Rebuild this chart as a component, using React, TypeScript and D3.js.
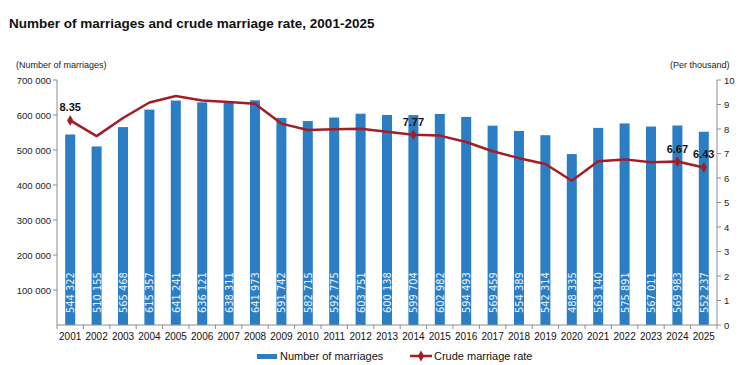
import * as d3 from "d3";

const years = [
  "2001", "2002", "2003", "2004", "2005", "2006", "2007", "2008", "2009", "2010",
  "2011", "2012", "2013", "2014", "2015", "2016", "2017", "2018", "2019", "2020",
  "2021", "2022", "2023", "2024", "2025",
];

const marriages = [
  544322, 510155, 565468, 615357, 641241, 636121, 638311, 641973, 591742, 582715,
  592775, 603751, 600138, 599704, 602982, 594493, 569459, 554389, 542314, 488335,
  563140, 575891, 567011, 569983, 552237,
];

const rates = [
  8.35, 7.71, 8.45, 9.08, 9.35, 9.16, 9.1, 9.03, 8.22, 7.96,
  7.99, 8.01, 7.89, 7.77, 7.73, 7.47, 7.09, 6.81, 6.57, 5.89,
  6.68, 6.76, 6.64, 6.67, 6.43,
];

const labelledRates = ["2001", "2014", "2024", "2025"];

const leftTicks = [100000, 200000, 300000, 400000, 500000, 600000, 700000];
const rightTicks = [0, 1, 2, 3, 4, 5, 6, 7, 8, 9, 10];

const fmt = (v: number) => d3.format(",")(v).replace(/,/g, " ");

function App() {
  const width = 740;
  const height = 365;
  const marginLeft = 57;
  const marginRight = 23;
  const top = 80;
  const bottom = 325;
  const font = "'Liberation Sans', Arial, sans-serif";
  const barColor = "#2b7ec4";
  const lineColor = "#a31d24";
  const axisColor = "#8c8c8c";

  const x = d3
    .scaleBand()
    .domain(years)
    .range([marginLeft, width - marginRight]);
  const yLeft = d3.scaleLinear().domain([0, 700000]).range([bottom, top]);
  const yRight = d3.scaleLinear().domain([0, 10]).range([bottom, top]);
  const barW = 10;
  const cx = (yr: string) => (x(yr) ?? 0) + x.bandwidth() / 2;

  const line = d3
    .line<number>()
    .x((_, i) => cx(years[i]))
    .y((d) => yRight(d));

  const diamond = d3.symbol(d3.symbolDiamond, 34)() ?? "";

  return (
    <svg
      width={width}
      height={height}
      style={{ position: "absolute", left: 0, top: 0, background: "#fff" }}
      fontFamily={font}
    >
      <text x={9} y={28} fontSize={13.5} fontWeight="bold" fill="#111">
        Number of marriages and crude marriage rate, 2001-2025
      </text>
      <text x={16} y={68} fontSize={9} fill="#222">
        (Number of marriages)
      </text>
      <text x={670} y={68} fontSize={9} fill="#222">
        (Per thousand)
      </text>

      {/* bars */}
      {years.map((yr, i) => (
        <g key={yr}>
          <rect
            x={cx(yr) - barW / 2}
            width={barW}
            y={yLeft(marriages[i])}
            height={yLeft(0) - yLeft(marriages[i])}
            fill={barColor}
          />
          <text
            transform={`translate(${cx(yr) + 4},${bottom - 12}) rotate(-90)`}
            fontSize={11}
            fontFamily="'Liberation Sans Narrow', 'DejaVu Sans Condensed', sans-serif"
            fill="#eaf4ff"
          >
            {fmt(marriages[i])}
          </text>
        </g>
      ))}

      {/* left axis */}
      <line x1={marginLeft} x2={marginLeft} y1={top} y2={bottom} stroke={axisColor} />
      {leftTicks.map((t) => (
        <g key={t}>
          <line
            x1={marginLeft - 4}
            x2={marginLeft}
            y1={yLeft(t)}
            y2={yLeft(t)}
            stroke={axisColor}
          />
          <text
            x={marginLeft - 6}
            y={yLeft(t) + 3.5}
            fontSize={9.5}
            textAnchor="end"
            fill="#222"
          >
            {fmt(t)}
          </text>
        </g>
      ))}

      {/* right axis */}
      <line
        x1={width - marginRight}
        x2={width - marginRight}
        y1={top}
        y2={bottom}
        stroke={axisColor}
      />
      {rightTicks.map((t) => (
        <g key={t}>
          <line
            x1={width - marginRight}
            x2={width - marginRight + 4}
            y1={yRight(t)}
            y2={yRight(t)}
            stroke={axisColor}
          />
          <text x={width - marginRight + 7} y={yRight(t) + 3.5} fontSize={9.5} fill="#222">
            {t}
          </text>
        </g>
      ))}

      {/* x axis */}
      <line x1={marginLeft} x2={width - marginRight} y1={bottom} y2={bottom} stroke={axisColor} />
      {years.map((yr) => (
        <g key={yr}>
          <line
            x1={x(yr) ?? 0}
            x2={x(yr) ?? 0}
            y1={bottom}
            y2={bottom + 4}
            stroke={axisColor}
          />
          <text x={cx(yr)} y={bottom + 15} fontSize={10} textAnchor="middle" fill="#111">
            {yr}
          </text>
        </g>
      ))}
      <line
        x1={width - marginRight}
        x2={width - marginRight}
        y1={bottom}
        y2={bottom + 4}
        stroke={axisColor}
      />

      {/* rate line */}
      <path
        d={line(rates) ?? ""}
        fill="none"
        stroke={lineColor}
        strokeWidth={2.5}
        strokeLinejoin="round"
      />
      {years.map((yr, i) =>
        labelledRates.includes(yr) ? (
          <g key={yr}>
            <path
              d={diamond}
              transform={`translate(${cx(yr)},${yRight(rates[i])})`}
              fill={lineColor}
            />
            <text
              x={cx(yr)}
              y={yRight(rates[i]) - 9}
              fontSize={11}
              fontWeight="bold"
              textAnchor="middle"
              fill="#111"
            >
              {rates[i].toFixed(2)}
            </text>
          </g>
        ) : null
      )}

      {/* legend */}
      <rect x={257} y={354} width={20} height={5} fill={barColor} />
      <text x={280} y={360} fontSize={11} fill="#111">
        Number of marriages
      </text>
      <line x1={410} x2={432} y1={356} y2={356} stroke={lineColor} strokeWidth={2.5} />
      <path d={diamond} transform="translate(421,356)" fill={lineColor} />
      <text x={434} y={360} fontSize={11} fill="#111">
        Crude marriage rate
      </text>
    </svg>
  );
}

export default App;
